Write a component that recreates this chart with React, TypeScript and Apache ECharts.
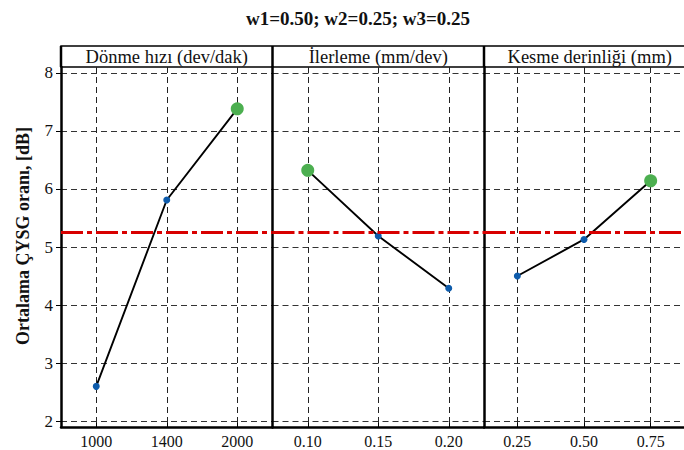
import { useEffect, useRef } from 'react';
import * as echarts from 'echarts';

const chartTitle = 'w1=0.50; w2=0.25; w3=0.25';
const yAxisName = 'Ortalama ÇYSG oranı, [dB]';
const panelTitles = ['Dönme hızı (dev/dak)', 'İlerleme (mm/dev)', 'Kesme derinliği (mm)'];
const speedLevels = ['1000', '1400', '2000'];
const feedLevels = ['0.10', '0.15', '0.20'];
const depthLevels = ['0.25', '0.50', '0.75'];
const speedMeans = [2.6, 5.81, 7.38];
const feedMeans = [6.32, 5.19, 4.29];
const depthMeans = [4.5, 5.13, 6.14];
const overallMean = 5.26;
const yTicks = [2, 3, 4, 5, 6, 7, 8];
const yMin = 1.9;
const yMax = 8.1;

const FONT = 'Liberation Serif, serif';
const PANEL_LEFT = [61, 272.5, 484];
const PANEL_W = 211.5;
const GRID_TOP = 67;
const GRID_H = 360;
const HEADER_TOP = 46;

export default function App() {
  const ref = useRef<HTMLDivElement>(null);
  useEffect(() => {
    if (!ref.current) return;
    const chart = echarts.init(ref.current, null, { renderer: 'svg' });
    const levels = [speedLevels, feedLevels, depthLevels];
    const means = [speedMeans, feedMeans, depthMeans];

    const grids = PANEL_LEFT.map((l) => ({ left: l, top: GRID_TOP, width: PANEL_W, height: GRID_H }));

    const xAxes = levels.map((cats, i) => ({
      type: 'category',
      gridIndex: i,
      data: cats,
      boundaryGap: true,
      axisLine: { show: true, lineStyle: { color: '#000', width: 2.5 } },
      axisTick: { show: true, alignWithLabel: true, inside: true, length: 4, lineStyle: { color: '#000', width: 1 } },
      axisLabel: { show: true, fontFamily: FONT, fontSize: 16, color: '#111', margin: 6 },
      splitLine: { show: true, alignWithLabel: true, lineStyle: { color: '#222', width: 1, type: [6, 4] } },
    }));

    const yAxes = levels.map((_, i) => ({
      type: 'value',
      gridIndex: i,
      min: yMin,
      max: yMax,
      axisLine: { show: true, lineStyle: { color: '#000', width: 2.5 } },
      axisTick: {
        show: i === 0,
        length: 5,
        customValues: yTicks,
        lineStyle: { color: '#000', width: 1 },
      },
      axisLabel: {
        show: i === 0,
        customValues: yTicks,
        fontFamily: FONT,
        fontSize: 17,
        color: '#111',
        margin: 8,
        formatter: (v: number) => (Math.abs(v - Math.round(v)) < 1e-9 ? String(Math.round(v)) : ''),
      },
      splitLine: { show: true, lineStyle: { color: '#333', width: 1, type: [6, 4] } },
    }));

    const series = means.map((vals, i) => {
      const maxV = Math.max(...vals);
      return {
        type: 'line',
        xAxisIndex: i,
        yAxisIndex: i,
        symbol: 'circle',
        z: 4,
        lineStyle: { color: '#000', width: 1.9 },
        data: vals.map((v) =>
          v === maxV
            ? { value: v, symbolSize: 13, itemStyle: { color: '#4caf50' } }
            : { value: v, symbolSize: 7, itemStyle: { color: '#0d5bab' } }
        ),
        markLine: {
          silent: true,
          symbol: ['none', 'none'],
          label: { show: false },
          lineStyle: { color: '#d80000', width: 3, type: [22, 4, 5, 4] },
          data: [{ yAxis: overallMean }],
        },
      };
    });

    const graphics: any[] = [
      {
        type: 'text',
        x: 358,
        y: 18,
        style: { text: chartTitle, fontFamily: FONT, fontSize: 19, fontWeight: 'bold', fill: '#111', align: 'center', verticalAlign: 'middle' },
      },
      {
        type: 'text',
        x: 23,
        y: 236,
        rotation: Math.PI / 2,
        style: { text: yAxisName, fontFamily: FONT, fontSize: 18, fontWeight: 'bold', fill: '#111', align: 'center', verticalAlign: 'middle' },
      },
      {
        type: 'rect',
        shape: { x: PANEL_LEFT[0], y: HEADER_TOP, width: PANEL_W * 3, height: GRID_TOP - HEADER_TOP },
        style: { fill: 'none', stroke: '#000', lineWidth: 1.5 },
      },
    ];
    PANEL_LEFT.forEach((l, i) => {
      graphics.push({
        type: 'line',
        shape: { x1: l, y1: HEADER_TOP, x2: l, y2: GRID_TOP },
        style: { stroke: '#000', lineWidth: 2.5 },
      });
      graphics.push({
        type: 'text',
        x: l + PANEL_W / 2,
        y: (HEADER_TOP + GRID_TOP) / 2 + 0.5,
        style: { text: panelTitles[i], fontFamily: FONT, fontSize: 18.5, fill: '#111', align: 'center', verticalAlign: 'middle' },
      });
    });

    chart.setOption({
      animation: false,
      backgroundColor: '#fff',
      grid: grids,
      xAxis: xAxes,
      yAxis: yAxes,
      series,
      graphic: graphics,
    });
    return () => chart.dispose();
  }, []);
  return <div ref={ref} style={{ position: 'fixed', left: 0, top: 0, width: 684, height: 450 }} />;
}
